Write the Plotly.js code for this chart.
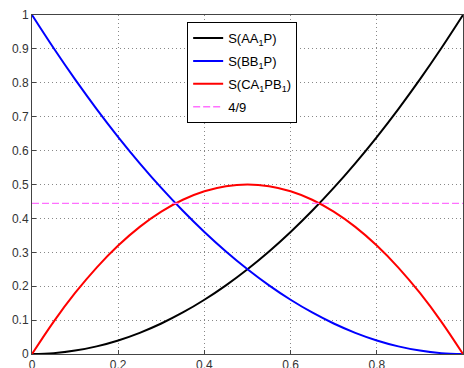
<!DOCTYPE html>
<html>
<head>
<meta charset="utf-8">
<script src="https://cdn.plot.ly/plotly-3.0.1.min.js"></script>
<style>html,body{margin:0;padding:0;background:#fff;}#chart{width:464px;height:368px;}</style>
</head>
<body>
<div id="chart"></div>
<script>
const xVals = [0,0.05,0.1,0.15,0.2,0.25,0.3,0.35,0.4,0.45,0.5,0.55,0.6,0.65,0.7,0.75,0.8,0.85,0.9,0.95,1];
const sAA1P = [0,0.0025,0.01,0.0225,0.04,0.0625,0.09,0.1225,0.16,0.2025,0.25,0.3025,0.36,0.4225,0.49,0.5625,0.64,0.7225,0.81,0.9025,1];
const sBB1P = [1,0.9025,0.81,0.7225,0.64,0.5625,0.49,0.4225,0.36,0.3025,0.25,0.2025,0.16,0.1225,0.09,0.0625,0.04,0.0225,0.01,0.0025,0];
const sCA1PB1 = [0,0.095,0.18,0.255,0.32,0.375,0.42,0.455,0.48,0.495,0.5,0.495,0.48,0.455,0.42,0.375,0.32,0.255,0.18,0.095,0];
const refX = [0,1];
const refY = [0.4444,0.4444];
const names = ['S(AA<sub>1</sub>P)','S(BB<sub>1</sub>P)','S(CA<sub>1</sub>PB<sub>1</sub>)','4/9'];
const xTicks = [0,0.2,0.4,0.6,0.8,1];
const yTicks = [0,0.1,0.2,0.3,0.4,0.5,0.6,0.7,0.8,0.9,1];

const traces = [
  {x:xVals,y:sAA1P,name:names[0],legendgroup:'a',mode:'lines',line:{color:'#000000',width:2,shape:'spline'}},
  {x:xVals,y:sBB1P,name:names[1],legendgroup:'b',mode:'lines',line:{color:'#0000ff',width:2,shape:'spline'}},
  {x:xVals,y:sCA1PB1,name:names[2],legendgroup:'c',mode:'lines',line:{color:'#ff0000',width:2,shape:'spline'}},
  {x:refX,y:refY,name:names[3],legendgroup:'d',mode:'lines',line:{color:'#ff70ff',width:1.3,dash:'7px,3px'}}
];
const axisCommon = {
  showline:true, mirror:true, linecolor:'#444', linewidth:1,
  ticks:'inside', ticklen:4, tickcolor:'#444',
  showgrid:true, gridcolor:'#888', griddash:'1px,3px', gridwidth:1,
  zeroline:false, tickfont:{family:'Liberation Sans, Arial, sans-serif', size:12, color:'#333'}
};
const layout = {
  width:464, height:368,
  margin:{l:32,r:1,t:15,b:14},
  paper_bgcolor:'#fff', plot_bgcolor:'#fff',
  showlegend:true,
  xaxis:Object.assign({}, axisCommon, {range:[0,1], tickvals:xTicks, ticktext:xTicks.map(String)}),
  yaxis:Object.assign({}, axisCommon, {range:[0,1], tickvals:yTicks, ticktext:yTicks.map(String)}),
  legend:{x:0.36,y:0.979,xanchor:'left',yanchor:'top',bgcolor:'#fff',bordercolor:'#000',borderwidth:1,
    traceorder:'grouped', tracegroupgap:3,
    font:{family:'Liberation Sans, Arial, sans-serif',size:13,color:'#000'}}
};
Plotly.newPlot('chart', traces, layout, {displayModeBar:false, staticPlot:true});
</script>
</body>
</html>
